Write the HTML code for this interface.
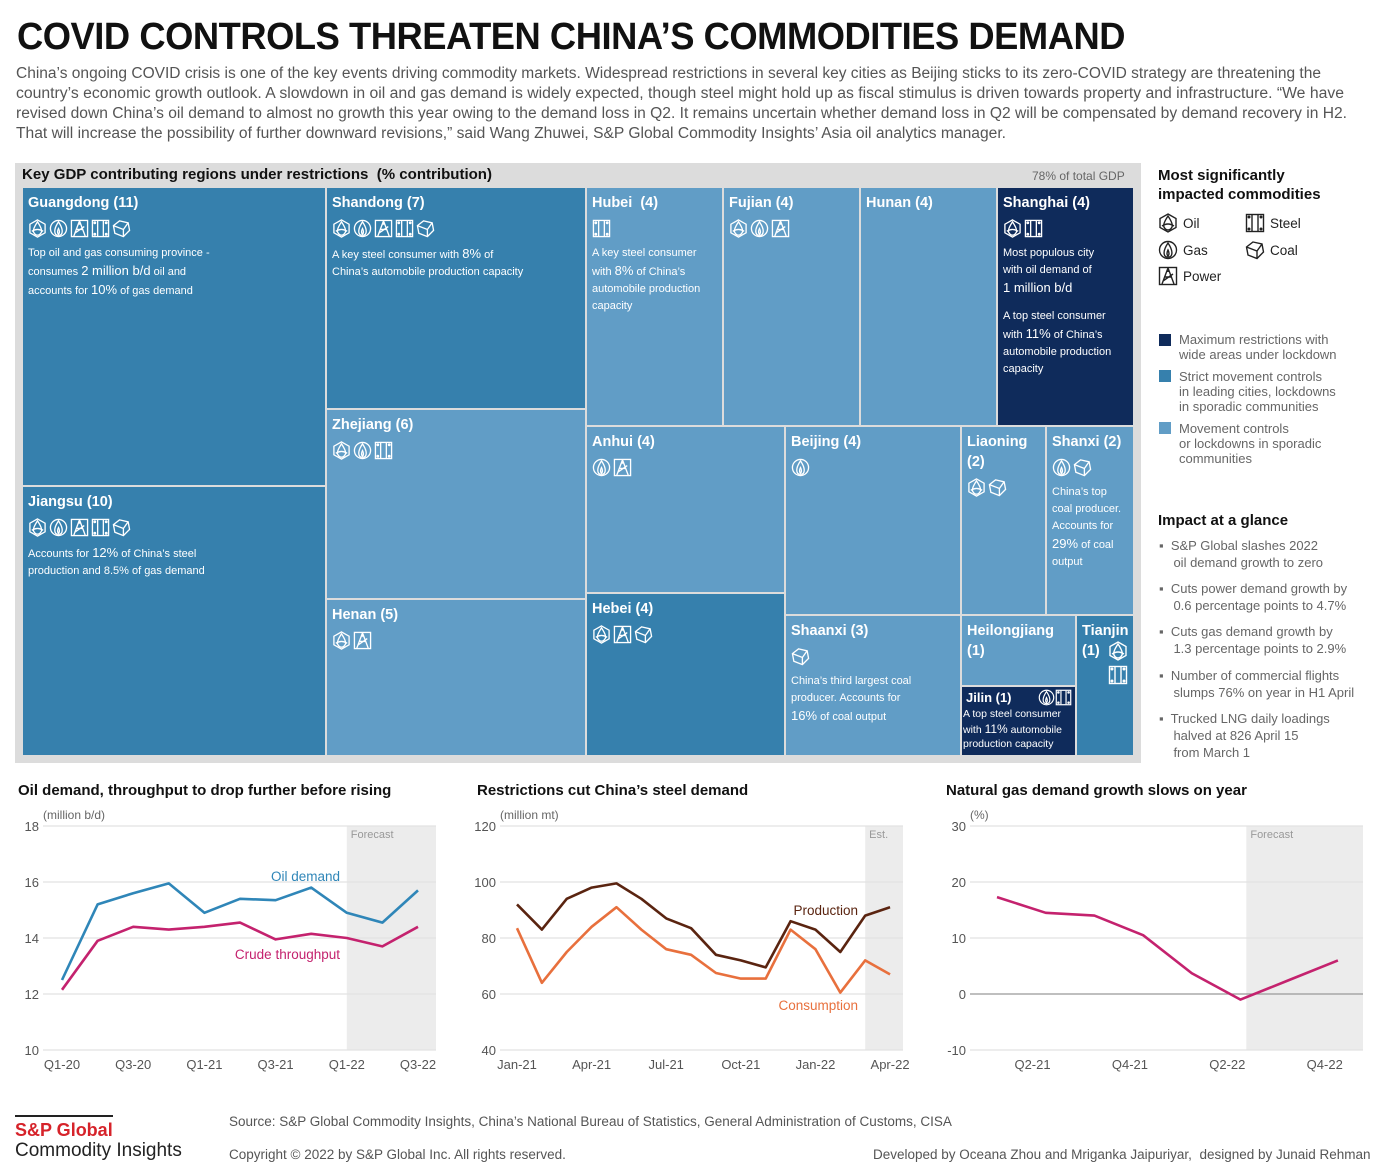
<!DOCTYPE html>
<html><head><meta charset="utf-8">
<style>
*{margin:0;padding:0;box-sizing:border-box}
body{width:1396px;height:1176px;background:#fff;position:relative;overflow:hidden;font-family:"Liberation Sans",sans-serif;color:#222}
.abs{position:absolute;white-space:nowrap}
.fit{transform-origin:0 0}
.tile{position:absolute;color:#fff;padding:5px 5px;overflow:hidden}
.tile .t{font-weight:bold;font-size:14.5px;line-height:20px}
.tile .d{font-size:11px;line-height:17px;white-space:normal;margin-top:2px}
.tile .d b{font-size:13px;font-weight:normal}
.ic{display:flex;gap:2px;margin-top:6px;height:20px}
.m{background:#3680ad}.l{background:#619dc6}.k{background:#0f2b5b}
.leg{font-size:13px;color:#666;line-height:15px}
.bul{font-size:13px;color:#666;line-height:17px}
</style></head><body>
<div class="abs fit" data-w="1108" style="left:17px;top:16px;font-size:38px;font-weight:bold;color:#111;letter-spacing:-0.5px">COVID CONTROLS THREATEN CHINA’S COMMODITIES DEMAND</div>
<div>
<div class="abs fit" data-w="1305" style="left:16px;top:65px;font-size:15.5px;color:#555">China’s ongoing COVID crisis is one of the key events driving commodity markets. Widespread restrictions in several key cities as Beijing sticks to its zero-COVID strategy are threatening the</div>
<div class="abs fit" data-w="1328" style="left:16px;top:85px;font-size:15.5px;color:#555">country’s economic growth outlook. A slowdown in oil and gas demand is widely expected, though steel might hold up as fiscal stimulus is driven towards property and infrastructure. “We have</div>
<div class="abs fit" data-w="1331" style="left:16px;top:105px;font-size:15.5px;color:#555">revised down China’s oil demand to almost no growth this year owing to the demand loss in Q2. It remains uncertain whether demand loss in Q2 will be compensated by demand recovery in H2.</div>
<div class="abs fit" data-w="990" style="left:16px;top:125px;font-size:15.5px;color:#555">That will increase the possibility of further downward revisions,” said Wang Zhuwei, S&amp;P Global Commodity Insights’ Asia oil analytics manager.</div>
</div>

<div style="position:absolute;left:15px;top:163px;width:1126px;height:600px;background:#dcdcdc"></div>
<div class="abs fit" data-w="470" style="left:22px;top:166px;font-size:15px;font-weight:bold;color:#111">Key GDP contributing regions under restrictions&nbsp; (% contribution)</div>
<div class="abs" style="left:1032px;top:169px;font-size:12px;color:#666">78% of total GDP</div>
<div id="tm"></div>

<div class="abs" style="left:1158px;top:166px;font-size:15px;font-weight:bold;color:#111;line-height:19px">Most significantly<br>impacted commodities</div>
<div id="cleg"></div>
<div>
<div class="abs" style="left:1159px;top:334px;width:12px;height:12px;background:#0f2b5b"></div>
<div class="abs leg" style="left:1179px;top:332px">Maximum restrictions with<br>wide areas under lockdown</div>
<div class="abs" style="left:1159px;top:370px;width:12px;height:12px;background:#3680ad"></div>
<div class="abs leg" style="left:1179px;top:369px">Strict movement controls<br>in leading cities, lockdowns<br>in sporadic communities</div>
<div class="abs" style="left:1159px;top:422px;width:12px;height:12px;background:#619dc6"></div>
<div class="abs leg" style="left:1179px;top:421px">Movement controls<br>or lockdowns in sporadic<br>communities</div>
</div>
<div class="abs" style="left:1158px;top:512px;font-size:15px;font-weight:bold;color:#111">Impact at a glance</div>
<div>
<div class="abs bul" style="left:1159px;top:537px">▪&nbsp; S&amp;P Global slashes 2022<br>&nbsp;&nbsp;&nbsp;&nbsp;oil demand growth to zero</div>
<div class="abs bul" style="left:1159px;top:580px">▪&nbsp; Cuts power demand growth by<br>&nbsp;&nbsp;&nbsp;&nbsp;0.6 percentage points to 4.7%</div>
<div class="abs bul" style="left:1159px;top:623px">▪&nbsp; Cuts gas demand growth by<br>&nbsp;&nbsp;&nbsp;&nbsp;1.3 percentage points to 2.9%</div>
<div class="abs bul" style="left:1159px;top:667px">▪&nbsp; Number of commercial flights<br>&nbsp;&nbsp;&nbsp;&nbsp;slumps 76% on year in H1 April</div>
<div class="abs bul" style="left:1159px;top:710px">▪&nbsp; Trucked LNG daily loadings<br>&nbsp;&nbsp;&nbsp;&nbsp;halved at 826 April 15<br>&nbsp;&nbsp;&nbsp;&nbsp;from March 1</div>
</div>

<div class="abs" style="left:18px;top:782px;font-size:15px;font-weight:bold;color:#111">Oil demand, throughput to drop further before rising</div>
<div class="abs" style="left:477px;top:782px;font-size:15px;font-weight:bold;color:#111">Restrictions cut China’s steel demand</div>
<div class="abs" style="left:946px;top:782px;font-size:15px;font-weight:bold;color:#111">Natural gas demand growth slows on year</div>
<svg id="ch" width="1396" height="1176" style="position:absolute;left:0;top:0;pointer-events:none;font-family:'Liberation Sans',sans-serif"></svg>

<div>
<div class="abs" style="left:15px;top:1115px;width:98px;height:2px;background:#222"></div>
<div class="abs" style="left:15px;top:1120px;font-size:18px;font-weight:bold;color:#d6232a">S&amp;P Global</div>
<div class="abs" style="left:15px;top:1140px;font-size:19px;color:#222">Commodity Insights</div>
</div>
<div class="abs" style="left:229px;top:1114px;font-size:13.5px;color:#555">Source: S&amp;P Global Commodity Insights, China’s National Bureau of Statistics, General Administration of Customs, CISA</div>
<div class="abs" style="left:229px;top:1147px;font-size:13.5px;color:#555">Copyright © 2022 by S&amp;P Global Inc. All rights reserved.</div>
<div class="abs" style="left:873px;top:1147px;font-size:13.5px;color:#555">Developed by Oceana Zhou and Mriganka Jaipuriyar,&nbsp; designed by Junaid Rehman</div>

<script>
// ---------- Chart data ----------
const oilCategories=['Q1-20','Q2-20','Q3-20','Q4-20','Q1-21','Q2-21','Q3-21','Q4-21','Q1-22','Q2-22','Q3-22'];
const oilDemand=[12.5,15.2,15.6,15.95,14.9,15.4,15.35,15.8,14.9,14.55,15.7];
const crudeThroughput=[12.15,13.9,14.4,14.3,14.4,14.55,13.95,14.15,14.0,13.7,14.4];
const oilTicks=[10,12,14,16,18];
const oilXLabels=['Q1-20','Q3-20','Q1-21','Q3-21','Q1-22','Q3-22'];

const steelCategories=['Jan-21','Feb-21','Mar-21','Apr-21','May-21','Jun-21','Jul-21','Aug-21','Sep-21','Oct-21','Nov-21','Dec-21','Jan-22','Feb-22','Mar-22','Apr-22'];
const steelProduction=[92,83,94,98,99.5,94,87,83.5,74,72,69.5,86,83,75,88,91];
const steelConsumption=[83.5,64,75,84,91,83,76,74,67.5,65.5,65.5,83,76,60.5,72,67];
const steelTicks=[40,60,80,100,120];
const steelXLabels=['Jan-21','Apr-21','Jul-21','Oct-21','Jan-22','Apr-22'];

const gasCategories=['Q1-21','Q2-21','Q3-21','Q4-21','Q1-22','Q2-22','Q3-22','Q4-22'];
const gasGrowth=[17.3,14.5,14,10.5,3.7,-1,2.5,6];
const gasTicks=[-10,0,10,20,30];
const gasXLabels=['Q2-21','Q4-21','Q2-22','Q4-22'];

const NS='http://www.w3.org/2000/svg';
const svg=document.getElementById('ch');
function mk(tag,attrs,parent){const e=document.createElementNS(NS,tag);for(const k in attrs)e.setAttribute(k,attrs[k]);(parent||svg).appendChild(e);return e;}
function txt(x,y,s,attrs,parent){const e=mk('text',Object.assign({x:x,y:y},attrs),parent);e.textContent=s;return e;}

function chart(o){
  const g=mk('g',{});
  
  
  const y=v=>826+(o.max-v)/(o.max-o.min)*224;
  const x=i=>o.x0+i*o.step;
  const sh=mk('rect',{x:x(o.shadeFrom),y:826,width:o.right-x(o.shadeFrom),height:224,fill:'#ececec'},g);
  
  
  txt(x(o.shadeFrom)+4,838,o.shadeLabel,{'font-size':11,fill:'#999'},g);
  o.ticks.forEach(t=>{
    const ln=mk('line',{x1:o.left,x2:o.right,y1:y(t),y2:y(t),stroke:t===o.zero?'#999':'#e2e2e2','stroke-width':1.2},g);
    
    
    const tl=txt(o.left-4,y(t)+5,String(t),{'font-size':13,fill:'#555','text-anchor':'end'},g);
    
    
  });
  txt(o.left,819,o.unit,{'font-size':12,fill:'#666'},g);
  o.xlabels.forEach(l=>{
    const i=o.cats.indexOf(l);
    const xl=txt(x(i+(o.labOff||0)),1069,l,{'font-size':13,fill:'#555','text-anchor':'middle'},g);
    
    
  });
  o.series.forEach(s=>{
    const p=mk('polyline',{points:s.v.map((v,i)=>x(i)+','+y(v)).join(' '),fill:'none',stroke:s.c,'stroke-width':2.6,'stroke-linejoin':'round'},g);
    
    
    if(s.lab){const l=txt(s.lx,s.ly,s.lab,{'font-size':13.5,fill:s.c,'text-anchor':'end'},g);
      
      }
  });
}
chart({name:'oil-chart',min:10,max:18,x0:62,step:35.6,left:43,right:436,shadeFrom:8,shadeLabel:'Forecast',ticks:oilTicks,unit:'(million b/d)',cats:oilCategories,xlabels:oilXLabels,
  series:[{n:'oil-demand-line',v:oilDemand,c:'#2f86b8',lab:'Oil demand',lx:340,ly:881},{n:'crude-throughput-line',v:crudeThroughput,c:'#c4226e',lab:'Crude throughput',lx:340,ly:959}]});
chart({name:'steel-chart',min:40,max:120,x0:517,step:24.87,left:500,right:903,shadeFrom:14,shadeLabel:'Est.',ticks:steelTicks,unit:'(million mt)',cats:steelCategories,xlabels:steelXLabels,
  series:[{n:'production-line',v:steelProduction,c:'#5a2410',lab:'Production',lx:858,ly:915},{n:'consumption-line',v:steelConsumption,c:'#e8703d',lab:'Consumption',lx:858,ly:1010}]});
chart({name:'gas-chart',min:-10,max:30,zero:0,x0:997,step:48.7,left:970,right:1363,shadeFrom:5.12,shadeLabel:'Forecast',ticks:gasTicks,unit:'(%)',cats:gasCategories,xlabels:gasXLabels,labOff:-0.27,
  series:[{n:'gas-growth-line',v:gasGrowth,c:'#c4226e'}]});

// ---------- icons ----------
function icon(type,stroke,size){
  const s=size||19;
  const p={
    oil:'<polygon points="10,1 18,5.5 18,14.5 10,19 2,14.5 2,5.5"/><path d="M10 3 C6 9 5 12 6 14 C8 18 12 18 14 14 C15 12 14 9 10 3 Z"/><path d="M4 13 Q10 9 16 13"/>',
    gas:'<circle cx="10" cy="10" r="8.5"/><path d="M10 3 C6 9 5 13 7 16 C8 17.5 12 17.5 13 16 C15 13 14 9 10 3 Z"/><path d="M10 10 C8.5 13 9 15 10 16 C11 15 11.5 13 10 10Z"/>',
    power:'<rect x="1.5" y="1.5" width="17" height="17"/><path d="M10 2 L4 18 M10 2 L16 18 M6 11 L14 11 M5 15 L15 8 M10 2 L10 6"/>',
    steel:'<rect x="1.5" y="1.5" width="17" height="17"/><path d="M7 2 L7 18 M13 2 L13 18"/><circle cx="4" cy="4" r=".8"/><circle cx="16" cy="4" r=".8"/><circle cx="4" cy="16" r=".8"/><circle cx="16" cy="16" r=".8"/>',
    coal:'<polygon points="8,2 17,4 18.5,12 12,18.5 3,15 1.5,7"/><path d="M1.5 7 L12 11 L17 4 M12 11 L12 18.5"/>'
  }[type];
  return '<svg width="'+s+'" height="'+s+'" viewBox="0 0 20 20" fill="none" stroke="'+stroke+'" stroke-width="1.4">'+p+'</svg>';
}

// ---------- treemap ----------
const tiles=[
 {n:'Guangdong (11)',c:'m',x:23,y:188,w:302,h:297,ic:['oil','gas','power','steel','coal'],d:'Top oil and gas consuming province -<br>consumes <b>2 million b/d</b> oil and<br>accounts for <b>10%</b> of gas demand'},
 {n:'Jiangsu (10)',c:'m',x:23,y:487,w:302,h:268,ic:['oil','gas','power','steel','coal'],d:'Accounts for <b>12%</b> of China’s steel<br>production and 8.5% of gas demand'},
 {n:'Shandong (7)',c:'m',x:327,y:188,w:258,h:220,ic:['oil','gas','power','steel','coal'],d:'A key steel consumer with <b>8%</b> of<br>China’s automobile production capacity'},
 {n:'Zhejiang (6)',c:'l',x:327,y:410,w:258,h:188,ic:['oil','gas','steel']},
 {n:'Henan (5)',c:'l',x:327,y:600,w:258,h:155,ic:['oil','power']},
 {n:'Hubei&nbsp; (4)',c:'l',x:587,y:188,w:135,h:237,ic:['steel'],d:'A key steel consumer<br>with <b>8%</b> of China’s<br>automobile production<br>capacity'},
 {n:'Fujian (4)',c:'l',x:724,y:188,w:135,h:237,ic:['oil','gas','power']},
 {n:'Hunan (4)',c:'l',x:861,y:188,w:135,h:237,ic:[]},
 {n:'Shanghai (4)',c:'k',x:998,y:188,w:135,h:237,ic:['oil','steel'],d:'Most populous city<br>with oil demand of<br><b>1 million b/d</b><div style="height:10px"></div>A top steel consumer<br>with <b>11%</b> of China’s<br>automobile production<br>capacity'},
 {n:'Anhui (4)',c:'l',x:587,y:427,w:197,h:165,ic:['gas','power']},
 {n:'Hebei (4)',c:'m',x:587,y:594,w:197,h:161,ic:['oil','power','coal']},
 {n:'Beijing (4)',c:'l',x:786,y:427,w:174,h:187,ic:['gas']},
 {n:'Liaoning<br>(2)',c:'l',x:962,y:427,w:83,h:187,ic:['oil','coal']},
 {n:'Shanxi (2)',c:'l',x:1047,y:427,w:86,h:187,ic:['gas','coal'],d:'China’s top<br>coal producer.<br>Accounts for<br><b>29%</b> of coal<br>output'},
 {n:'Shaanxi (3)',c:'l',x:786,y:616,w:174,h:139,ic:['coal'],d:'China’s third largest coal<br>producer. Accounts for<br><b>16%</b> of coal output'},
 {n:'Heilongjiang<br>(1)',c:'l',x:962,y:616,w:113,h:69,ic:[]},
 {n:'Jilin (1)',c:'k',x:962,y:687,w:113,h:68,ic:[],jilin:true},
 {n:'Tianjin<br>(1)',c:'m',x:1077,y:616,w:56,h:139,ic:[],tianjin:true}
];
const tm=document.getElementById('tm');
tiles.forEach(t=>{
  const el=document.createElement('div');
  el.className='tile '+t.c;
  el.style.cssText+='left:'+t.x+'px;top:'+t.y+'px;width:'+t.w+'px;height:'+t.h+'px;';
  
  
  let h='<div class="t">'+t.n+'</div>';
  if(t.ic.length) h+='<div class="ic">'+t.ic.map(i=>icon(i,'#fff')).join('')+'</div>';
  if(t.d) h+='<div class="d" style="margin-top:6px">'+t.d+'</div>';
  if(t.jilin){el.style.padding='2px 1px';h='<div class="t" style="font-size:13px;line-height:18px;padding-left:3px">Jilin (1)<span style="position:absolute;right:3px;top:2px">'+icon('gas','#fff',17)+icon('steel','#fff',17)+'</span></div><div class="d" style="font-size:10.5px;line-height:14.5px;margin:0">A top steel consumer<br>with <b style="font-size:12px">11%</b> automobile<br>production capacity</div>';}
  if(t.tianjin){h='<div class="t">'+t.n+'</div><div style="position:absolute;left:31px;top:25px">'+icon('oil','#fff',20)+'</div><div style="position:absolute;left:31px;top:49px">'+icon('steel','#fff',20)+'</div>';}
  el.innerHTML=h;
  tm.appendChild(el);
});
// commodity legend
const cl=[['oil','Oil',1158,213],['gas','Gas',1158,240],['power','Power',1158,266],['steel','Steel',1245,213],['coal','Coal',1245,240]];
const cleg=document.getElementById('cleg');
cl.forEach(c=>{
  const d=document.createElement('div');
  d.className='abs';
  d.style.cssText='left:'+c[2]+'px;top:'+c[3]+'px;display:flex;align-items:center;gap:5px;font-size:13.5px;color:#222';
  
  
  d.innerHTML=icon(c[0],'#222',20)+'<span>'+c[1]+'</span>';
  cleg.appendChild(d);
});
// fit widths
document.querySelectorAll('.fit').forEach(e=>{
  const w=+e.getAttribute('data-w');const r=e.getBoundingClientRect().width;
  if(w&&r) e.style.transform='scaleX('+(w/r)+')';
});
</script>
</body></html>
